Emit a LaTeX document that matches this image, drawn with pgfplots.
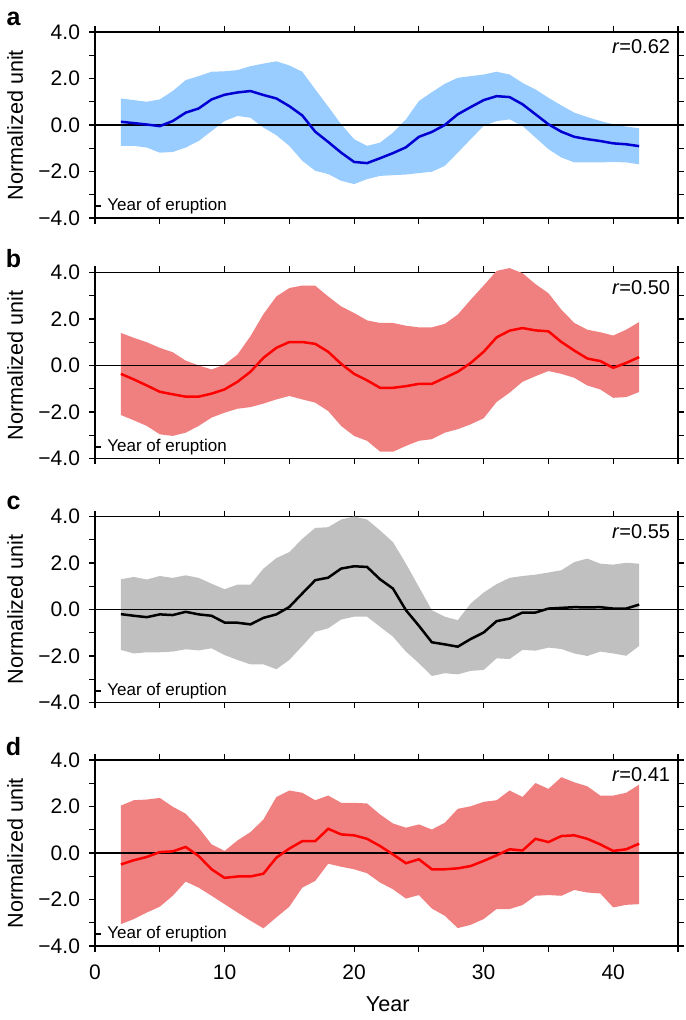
\documentclass[border=0pt]{standalone}
\usepackage{fontspec}
\setmainfont{Liberation Sans}
\usepackage{pgfplots}
\usepackage{pgfplotstable}
\pgfplotsset{compat=1.18}
\usepgfplotslibrary{fillbetween}
\definecolor{bandblue}{RGB}{153,204,255}
\definecolor{lineblue}{RGB}{0,0,210}
\definecolor{bandred}{RGB}{240,128,128}
\definecolor{linered}{RGB}{255,0,0}
\definecolor{bandgray}{RGB}{192,192,192}

\pgfplotstableread{
x m u l
2 0.14 1.14 -0.90
3 0.08 1.07 -0.90
4 0.02 1.00 -0.97
5 -0.05 1.10 -1.19
6 0.17 1.46 -1.16
7 0.53 1.93 -0.97
8 0.71 2.10 -0.69
9 1.10 2.29 -0.26
10 1.30 2.31 0.17
11 1.40 2.36 0.39
12 1.46 2.53 0.31
13 1.29 2.64 -0.11
14 1.14 2.74 -0.44
15 0.81 2.56 -0.90
16 0.41 2.29 -1.54
17 -0.29 1.53 -1.97
18 -0.73 0.79 -2.11
19 -1.19 0.03 -2.40
20 -1.59 -0.61 -2.54
21 -1.64 -0.90 -2.33
22 -1.43 -0.76 -2.19
23 -1.21 -0.33 -2.16
24 -0.96 0.24 -2.13
25 -0.51 1.03 -2.07
26 -0.30 1.41 -2.01
27 0.00 1.77 -1.76
28 0.46 2.03 -1.19
29 0.77 2.10 -0.61
30 1.07 2.17 -0.04
31 1.24 2.29 0.17
32 1.20 2.17 0.24
33 0.89 1.81 -0.04
34 0.46 1.53 -0.54
35 0.03 1.17 -1.04
36 -0.29 0.84 -1.40
37 -0.51 0.53 -1.61
38 -0.61 0.34 -1.61
39 -0.69 0.17 -1.61
40 -0.79 0.03 -1.59
41 -0.83 -0.07 -1.61
42 -0.91 -0.14 -1.69
}\dataA

\pgfplotstableread{
x m u l
2 -0.36 1.40 -2.13
3 -0.60 1.19 -2.36
4 -0.86 1.00 -2.60
5 -1.13 0.76 -2.96
6 -1.24 0.57 -3.03
7 -1.34 0.21 -2.89
8 -1.34 0.00 -2.60
9 -1.21 -0.17 -2.24
10 -1.03 0.04 -2.03
11 -0.70 0.47 -1.86
12 -0.27 1.26 -1.79
13 0.33 2.21 -1.64
14 0.76 2.97 -1.46
15 1.01 3.33 -1.31
16 1.01 3.44 -1.46
17 0.93 3.43 -1.60
18 0.59 2.97 -1.96
19 0.07 2.54 -2.60
20 -0.36 2.26 -3.03
21 -0.64 1.94 -3.24
22 -0.96 1.83 -3.70
23 -0.96 1.83 -3.71
24 -0.89 1.71 -3.46
25 -0.79 1.64 -3.24
26 -0.79 1.64 -3.17
27 -0.53 1.79 -2.89
28 -0.27 2.19 -2.74
29 0.11 2.83 -2.53
30 0.59 3.44 -2.27
31 1.21 4.07 -1.57
32 1.50 4.19 -1.17
33 1.61 3.97 -0.70
34 1.51 3.50 -0.46
35 1.47 3.11 -0.24
36 1.01 2.40 -0.36
37 0.64 1.83 -0.53
38 0.30 1.54 -0.86
39 0.19 1.43 -1.03
40 -0.10 1.29 -1.39
41 0.11 1.54 -1.36
42 0.36 1.87 -1.14
}\dataB

\pgfplotstableread{
x m u l
2 -0.20 1.30 -1.74
3 -0.27 1.40 -1.89
4 -0.33 1.29 -1.84
5 -0.21 1.44 -1.84
6 -0.24 1.36 -1.81
7 -0.10 1.47 -1.71
8 -0.21 1.36 -1.76
9 -0.27 1.11 -1.67
10 -0.56 0.87 -1.96
11 -0.57 1.07 -2.17
12 -0.64 1.07 -2.36
13 -0.36 1.76 -2.36
14 -0.21 2.21 -2.57
15 0.11 2.47 -2.17
16 0.69 3.04 -1.57
17 1.26 3.51 -0.96
18 1.37 3.54 -0.81
19 1.76 3.87 -0.43
20 1.86 4.00 -0.31
21 1.83 3.87 -0.31
22 1.30 3.40 -0.74
23 0.90 2.90 -1.17
24 -0.03 1.97 -1.81
25 -0.70 0.97 -2.31
26 -1.41 -0.03 -2.86
27 -1.50 -0.31 -2.74
28 -1.60 -0.46 -2.79
29 -1.27 0.26 -2.64
30 -0.99 0.73 -2.60
31 -0.50 1.09 -2.10
32 -0.39 1.36 -2.13
33 -0.13 1.44 -1.74
34 -0.13 1.50 -1.77
35 0.04 1.59 -1.64
36 0.07 1.69 -1.70
37 0.10 2.04 -1.89
38 0.09 2.19 -2.00
39 0.10 1.97 -1.81
40 0.04 1.93 -1.89
41 0.04 2.01 -1.99
42 0.21 1.97 -1.57
}\dataC

\pgfplotstableread{
x m u l
2 -0.49 2.04 -3.06
3 -0.31 2.27 -2.84
4 -0.17 2.30 -2.56
5 0.04 2.37 -2.31
6 0.07 1.99 -1.84
7 0.26 1.69 -1.23
8 -0.13 1.09 -1.49
9 -0.70 0.37 -1.84
10 -1.07 0.09 -2.20
11 -1.01 0.54 -2.56
12 -1.01 0.90 -2.91
13 -0.89 1.44 -3.24
14 -0.20 2.41 -2.77
15 0.19 2.69 -2.31
16 0.51 2.59 -1.49
17 0.51 2.27 -1.20
18 1.04 2.47 -0.46
19 0.80 2.16 -0.59
20 0.76 2.16 -0.70
21 0.61 2.13 -0.87
22 0.30 1.66 -1.27
23 -0.06 1.27 -1.56
24 -0.44 1.09 -1.96
25 -0.27 1.23 -1.81
26 -0.70 1.01 -2.39
27 -0.70 1.30 -2.70
28 -0.66 1.90 -3.23
29 -0.56 2.01 -3.09
30 -0.34 2.20 -2.84
31 -0.10 2.27 -2.41
32 0.16 2.69 -2.41
33 0.11 2.41 -2.24
34 0.61 3.01 -1.84
35 0.47 2.76 -1.81
36 0.73 3.26 -1.84
37 0.76 3.04 -1.59
38 0.61 2.87 -1.70
39 0.37 2.47 -1.74
40 0.09 2.47 -2.34
41 0.16 2.59 -2.23
42 0.40 2.94 -2.20
}\dataD

\pgfplotsset{
 panel/.style={
  scale only axis, width=291.5pt, height=93pt,
  xmin=0, xmax=45, ymin=-4, ymax=4,
  xtick={0,5,...,45}, xticklabels={},
  ytick={-4,-3,...,4}, yticklabels={−4.0,,−2.0,,0.0,,2.0,,4.0},
  tick align=outside, xtick pos=both, ytick pos=both,
  major tick length=3pt,
  tick style={black, line width=0.6pt},
  axis line style={line width=0.6pt},
  tick label style={font=\fontsize{10.5}{12}\selectfont},
  yticklabel style={xshift=-1pt},
  ylabel={Normalized unit},
  every axis y label/.style={at={(axis description cs:-0.137,0.5)}, rotate=90, anchor=center, font=\fontsize{10.8}{12}\selectfont},
  anchor=north west,
 },
}
\tikzset{
 rlab/.style={anchor=east, inner sep=0pt, font=\fontsize{10}{12}\selectfont},
 erup/.style={anchor=west, inner sep=0pt, font=\fontsize{8.5}{10}\selectfont},
 plab/.style={font=\fontsize{12.5}{14}\selectfont\bfseries, xshift=-40.75pt, yshift=6.75pt},
}

\begin{document}
\begin{tikzpicture}
% panel a
\begin{axis}[panel, name=A, at={(0pt,0pt)}]
\addplot[name path=U, draw=none, forget plot] table[x=x,y=u] {\dataA};
\addplot[name path=L, draw=none, forget plot] table[x=x,y=l] {\dataA};
\addplot[bandblue, draw=none] fill between[of=U and L];
\addplot[black, line width=0.6pt] coordinates {(0,0) (45,0)};
\addplot[lineblue, line width=1.25pt] table[x=x,y=m] {\dataA};
\addplot[black, line width=0.9pt] coordinates {(0,-3.5) (0.5,-3.5)};
\node[erup] at (axis cs:0.93,-3.5) {Year of eruption};
\node[rlab] at (axis description cs:0.987,0.921) {\textit{r}=0.62};
\end{axis}
\node[plab] at (A.north west) {a};

% panel b
\begin{axis}[panel, name=B, at={(0pt,-120.25pt)}, clip=false]
\addplot[name path=U, draw=none, forget plot] table[x=x,y=u] {\dataB};
\addplot[name path=L, draw=none, forget plot] table[x=x,y=l] {\dataB};
\addplot[bandred, draw=none] fill between[of=U and L];
\addplot[black, line width=0.6pt] coordinates {(0,0) (45,0)};
\addplot[linered, line width=1.25pt] table[x=x,y=m] {\dataB};
\addplot[black, line width=0.9pt] coordinates {(0,-3.5) (0.5,-3.5)};
\node[erup] at (axis cs:0.93,-3.5) {Year of eruption};
\node[rlab] at (axis description cs:0.987,0.921) {\textit{r}=0.50};
\end{axis}
\node[plab] at (B.north west) {b};

% panel c
\begin{axis}[panel, name=C, at={(0pt,-242.25pt)}]
\addplot[name path=U, draw=none, forget plot] table[x=x,y=u] {\dataC};
\addplot[name path=L, draw=none, forget plot] table[x=x,y=l] {\dataC};
\addplot[bandgray, draw=none] fill between[of=U and L];
\addplot[black, line width=0.6pt] coordinates {(0,0) (45,0)};
\addplot[black, line width=1.25pt] table[x=x,y=m] {\dataC};
\addplot[black, line width=0.9pt] coordinates {(0,-3.5) (0.5,-3.5)};
\node[erup] at (axis cs:0.93,-3.5) {Year of eruption};
\node[rlab] at (axis description cs:0.987,0.921) {\textit{r}=0.55};
\end{axis}
\node[plab] at (C.north west) {c};

% panel d
\begin{axis}[panel, name=D, at={(0pt,-364pt)},
  xticklabels={0,,10,,20,,30,,40,},
  xticklabel style={yshift=-3pt},
  xlabel={Year},
  every axis x label/.style={at={(axis description cs:0.502,-0.312)}, anchor=center, font=\fontsize{10.8}{12}\selectfont}]
\addplot[name path=U, draw=none, forget plot] table[x=x,y=u] {\dataD};
\addplot[name path=L, draw=none, forget plot] table[x=x,y=l] {\dataD};
\addplot[bandred, draw=none] fill between[of=U and L];
\addplot[black, line width=0.6pt] coordinates {(0,0) (45,0)};
\addplot[linered, line width=1.25pt] table[x=x,y=m] {\dataD};
\addplot[black, line width=0.9pt] coordinates {(0,-3.5) (0.5,-3.5)};
\node[erup] at (axis cs:0.93,-3.5) {Year of eruption};
\node[rlab] at (axis description cs:0.987,0.921) {\textit{r}=0.41};
\end{axis}
\node[plab] at (D.north west) {d};

\pgfresetboundingbox
\useasboundingbox (-47.5pt,16pt) rectangle (295pt,-494pt);
\end{tikzpicture}
\end{document}
